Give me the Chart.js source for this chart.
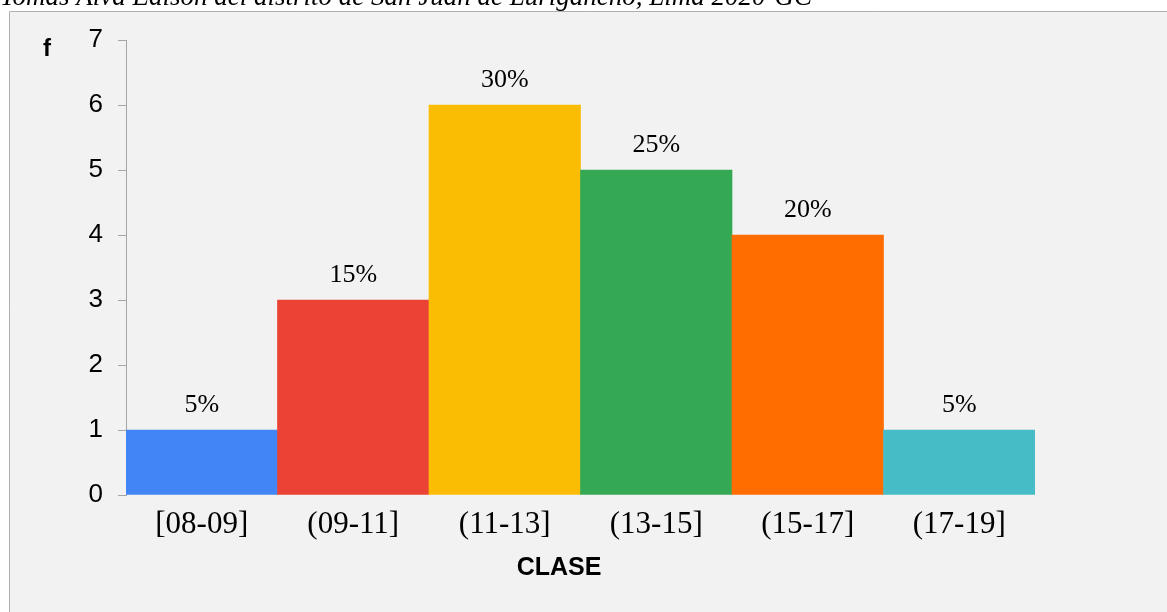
<!DOCTYPE html>
<html>
<head>
<meta charset="utf-8">
<script src="https://cdn.jsdelivr.net/npm/chart.js@4/dist/chart.umd.min.js"></script>
<style>
  html, body { margin: 0; padding: 0; background: #ffffff; }
  #wrap { width: 1167px; height: 612px; position: relative; }
</style>
</head>
<body>
<div id="wrap"><canvas id="c" width="1167" height="612"></canvas></div>
<script>
// Class intervals and absolute frequencies
const classes = ['[08-09]', '(09-11]', '(11-13]', '(13-15]', '(15-17]', '(17-19]'];
const frequencies = [1, 3, 6, 5, 4, 1];
const percentLabels = ['5%', '15%', '30%', '25%', '20%', '5%'];
const barColors = ['#4285f4', '#ea4335', '#fbbc04', '#34a853', '#ff6d01', '#46bdc6'];
const yTicks = [0, 1, 2, 3, 4, 5, 6, 7];
const captionText = 'Tomás Alva Edison del distrito de San Juan de Lurigancho, Lima 2020-GC';

const SERIF = '"Liberation Serif", "Times New Roman", serif';
const SANS = '"Liberation Sans", Arial, sans-serif';

// Panel background, caption line and axis titles
const decor = {
  id: 'decor',
  beforeDraw(chart) {
    const ctx = chart.ctx;
    ctx.save();
    ctx.fillStyle = '#ffffff';
    ctx.fillRect(0, 0, chart.width, chart.height);
    ctx.fillStyle = '#f2f2f2';
    ctx.fillRect(9, 12, chart.width, chart.height);
    ctx.strokeStyle = '#b0b0b0';
    ctx.lineWidth = 1;
    ctx.beginPath();
    ctx.moveTo(9.5, chart.height);
    ctx.lineTo(9.5, 11.5);
    ctx.lineTo(chart.width, 11.5);
    ctx.stroke();

    ctx.fillStyle = '#000000';
    ctx.font = 'italic 27px ' + SERIF;
    ctx.textAlign = 'left';
    ctx.textBaseline = 'alphabetic';
    ctx.fillText(captionText, 0, 5);

    ctx.font = 'bold 24px ' + SANS;
    ctx.textAlign = 'center';
    ctx.textBaseline = 'middle';
    ctx.fillText('f', 47, 49);
    ctx.font = 'bold 25px ' + SANS;
    ctx.fillText('CLASE', 559, 568);
    ctx.restore();
  },
  afterDatasetsDraw(chart) {
    const ctx = chart.ctx;
    const meta = chart.getDatasetMeta(0);
    ctx.save();
    ctx.fillStyle = '#000000';
    ctx.font = '26px ' + SERIF;
    ctx.textAlign = 'center';
    ctx.textBaseline = 'alphabetic';
    meta.data.forEach((bar, i) => {
      ctx.fillText(percentLabels[i], bar.x, bar.y - 18);
    });
    ctx.restore();
  }
};

new Chart(document.getElementById('c'), {
  type: 'bar',
  data: {
    labels: classes,
    datasets: [{
      data: frequencies,
      backgroundColor: barColors,
      borderWidth: 0,
      barPercentage: 1.0,
      categoryPercentage: 1.0
    }]
  },
  options: {
    responsive: false,
    animation: false,
    layout: { padding: { top: 40, right: 132, left: 0, bottom: 0 } },
    plugins: { legend: { display: false }, tooltip: { enabled: false } },
    scales: {
      x: {
        grid: { display: false, drawTicks: false },
        border: { display: false },
        ticks: {
          color: '#000000',
          font: { family: SERIF, size: 31 },
          padding: 11,
          maxRotation: 0
        },
        afterFit(scale) { scale.height = 117; }
      },
      y: {
        min: 0,
        max: 7,
        afterBuildTicks(scale) { scale.ticks = yTicks.map(v => ({ value: v })); },
        grid: { drawOnChartArea: false, tickLength: 8, color: '#a6a6a6' },
        border: { display: true, color: '#a6a6a6' },
        ticks: {
          color: '#000000',
          font: { family: SANS, size: 26 },
          padding: 15
        },
        afterFit(scale) { scale.width = 126; }
      }
    }
  },
  plugins: [decor]
});
</script>
</body>
</html>
